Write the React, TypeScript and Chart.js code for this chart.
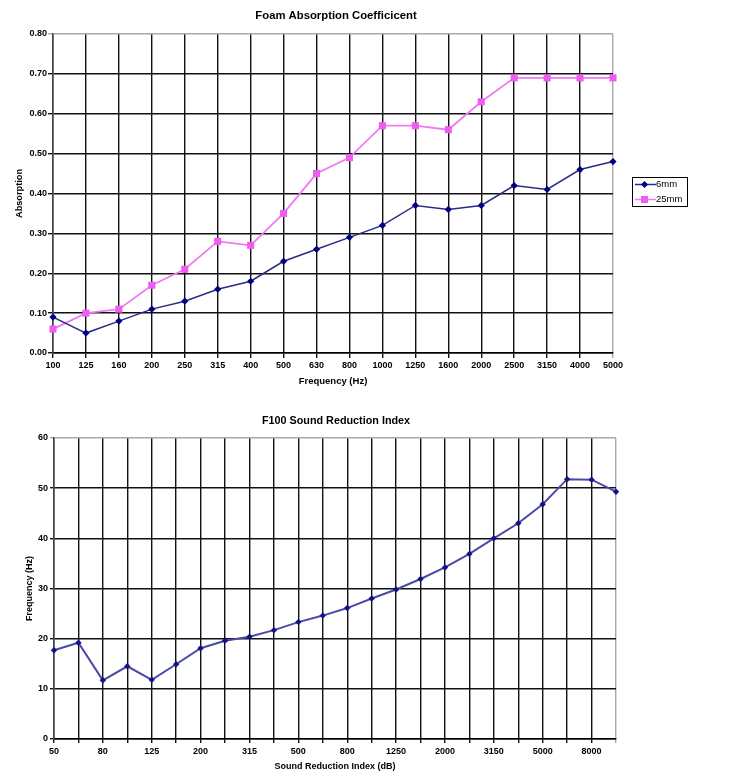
import { useEffect, useRef } from 'react';
import { Chart, registerables } from 'chart.js';

Chart.register(...registerables);

// ---------- data ----------
const absorptionTitle = 'Foam Absorption Coefficicent';
const absorptionFreqs = ['100', '125', '160', '200', '250', '315', '400', '500', '630', '800', '1000', '1250', '1600', '2000', '2500', '3150', '4000', '5000'];
const foam6mm = [0.09, 0.05, 0.08, 0.11, 0.13, 0.16, 0.18, 0.23, 0.26, 0.29, 0.32, 0.37, 0.36, 0.37, 0.42, 0.41, 0.46, 0.48];
const foam25mm = [0.06, 0.10, 0.11, 0.17, 0.21, 0.28, 0.27, 0.35, 0.45, 0.49, 0.57, 0.57, 0.56, 0.63, 0.69, 0.69, 0.69, 0.69];
const seriesNames = ['6mm', '25mm'];

const sriTitle = 'F100 Sound Reduction Index';
const sriFreqs = ['50', '63', '80', '100', '125', '160', '200', '250', '315', '400', '500', '630', '800', '1000', '1250', '1600', '2000', '2500', '3150', '4000', '5000', '6300', '8000', '10000'];
const sriValues = [17.7, 19.2, 11.7, 14.5, 11.8, 14.9, 18.1, 19.6, 20.4, 21.7, 23.3, 24.6, 26.1, 28.0, 29.8, 31.9, 34.2, 36.9, 40.0, 43.0, 46.8, 51.8, 51.7, 49.3];

const FONT = '"Liberation Sans", Arial, Helvetica, sans-serif';
const NAVY = '#000080';
const NAVY_LINE = '#2b2b85';
const MAGENTA_LINE = '#f07af2';
const MAGENTA_PT = '#ee5cf0';
const GRID = '#111111';
const EDGE = '#a8a8a8';

const titlePlugin = {
  id: 'sheetTitle',
  afterDraw(chart: any, _args: any, opts: any) {
    const ctx = chart.ctx;
    ctx.save();
    ctx.font = `bold ${opts.size}px ${FONT}`;
    ctx.fillStyle = '#000';
    ctx.textAlign = 'center';
    ctx.textBaseline = 'middle';
    ctx.fillText(opts.text, opts.x, opts.y);
    ctx.restore();
  },
};

const boxLegendPlugin = {
  id: 'boxLegend',
  afterDraw(chart: any, _args: any, opts: any) {
    if (!opts || !opts.show) return;
    const ctx = chart.ctx;
    ctx.save();
    ctx.strokeStyle = '#000';
    ctx.lineWidth = 1;
    ctx.strokeRect(632.5, 177.5, 55, 29);
    const rows = [184.5, 199.5];
    chart.data.datasets.forEach((ds: any, i: number) => {
      const y = rows[i];
      ctx.strokeStyle = ds.borderColor;
      ctx.lineWidth = 1.5;
      ctx.beginPath();
      ctx.moveTo(635, y);
      ctx.lineTo(656, y);
      ctx.stroke();
      ctx.fillStyle = ds.pointBackgroundColor;
      ctx.beginPath();
      if (ds.pointStyle === 'rect') {
        ctx.rect(644.5 - 3.5, y - 3.5, 7, 7);
      } else {
        ctx.moveTo(644.5, y - 3.5);
        ctx.lineTo(648, y);
        ctx.lineTo(644.5, y + 3.5);
        ctx.lineTo(641, y);
        ctx.closePath();
      }
      ctx.fill();
      ctx.fillStyle = '#000';
      ctx.font = `9.5px ${FONT}`;
      ctx.textAlign = 'left';
      ctx.textBaseline = 'middle';
      ctx.fillText(ds.label, 656, y);
    });
    ctx.restore();
  },
};

function AbsorptionChart() {
  const ref = useRef<HTMLCanvasElement>(null);
  useEffect(() => {
    if (!ref.current) return;
    const chart = new Chart(ref.current, {
      type: 'line',
      data: {
        labels: absorptionFreqs,
        datasets: [
          {
            label: seriesNames[0],
            data: foam6mm,
            borderColor: NAVY_LINE,
            borderWidth: 1.5,
            pointStyle: 'rectRot',
            pointRadius: 3.6,
            pointBackgroundColor: NAVY,
            pointBorderColor: NAVY,
            pointBorderWidth: 0,
            tension: 0,
          },
          {
            label: seriesNames[1],
            data: foam25mm,
            borderColor: MAGENTA_LINE,
            borderWidth: 1.8,
            pointStyle: 'rect',
            pointRadius: 5,
            pointBackgroundColor: MAGENTA_PT,
            pointBorderColor: MAGENTA_PT,
            pointBorderWidth: 0,
            tension: 0,
          },
        ],
      },
      options: {
        responsive: false,
        animation: false,
        layout: { padding: { left: 0, right: 120, top: 34, bottom: 0 } },
        plugins: {
          legend: { display: false },
          title: { display: false },
          tooltip: { enabled: false },
          sheetTitle: { text: absorptionTitle, x: 336, y: 16, size: 11.3 },
          boxLegend: { show: true },
        } as any,
        scales: {
          x: {
            type: 'category',
            offset: false,
            afterFit: (s: any) => { s.height = 42; },
            grid: {
              color: (c: any) => (c.index === absorptionFreqs.length - 1 ? EDGE : GRID),
              lineWidth: 1.4,
              tickLength: 5,
            },
            border: { color: '#000', width: 1.5 },
            ticks: {
              autoSkip: false,
              maxRotation: 0,
              padding: 2,
              color: '#000',
              font: { family: FONT, size: 9, weight: 'bold' },
            },
            title: {
              display: true,
              text: 'Frequency (Hz)',
              color: '#000',
              font: { family: FONT, size: 9.5, weight: 'bold' },
              padding: { top: 0, bottom: 8 },
            },
          },
          y: {
            min: 0,
            max: 0.8,
            afterFit: (s: any) => { s.width = 53; },
            grid: {
              color: (c: any) => (c.tick && Math.abs(c.tick.value - 0.8) < 1e-6 ? EDGE : GRID),
              lineWidth: 1.4,
              tickLength: 5,
            },
            border: { color: '#444', width: 1.5 },
            ticks: {
              stepSize: 0.1,
              padding: 1,
              color: '#000',
              font: { family: FONT, size: 9, weight: 'bold' },
              callback: (v: any) => Number(v).toFixed(2),
            },
            title: {
              display: true,
              text: 'Absorption',
              color: '#000',
              font: { family: FONT, size: 9.2, weight: 'bold' },
              padding: { top: 14, bottom: 0 },
            },
          },
        },
      },
      plugins: [titlePlugin, boxLegendPlugin],
    } as any);
    return () => chart.destroy();
  }, []);
  return <canvas ref={ref} width={733} height={395} style={{ display: 'block', width: 733, height: 395 }} />;
}

function SriChart() {
  const ref = useRef<HTMLCanvasElement>(null);
  useEffect(() => {
    if (!ref.current) return;
    const chart = new Chart(ref.current, {
      type: 'line',
      data: {
        labels: sriFreqs,
        datasets: [
          {
            label: sriTitle,
            data: sriValues,
            borderColor: '#4a4aa6',
            borderWidth: 2,
            pointStyle: 'rectRot',
            pointRadius: 3.2,
            pointBackgroundColor: '#12128a',
            pointBorderColor: '#12128a',
            pointBorderWidth: 0,
            tension: 0,
          },
        ],
      },
      options: {
        responsive: false,
        animation: false,
        layout: { padding: { left: 0, right: 117, top: 38, bottom: 0 } },
        plugins: {
          legend: { display: false },
          title: { display: false },
          tooltip: { enabled: false },
          sheetTitle: { text: sriTitle, x: 336, y: 21, size: 10.8 },
          boxLegend: { show: false },
        } as any,
        scales: {
          x: {
            type: 'category',
            offset: false,
            afterFit: (s: any) => { s.height = 38; },
            grid: {
              color: (c: any) => (c.index === sriFreqs.length - 1 ? EDGE : GRID),
              lineWidth: 1.4,
              tickLength: 4,
            },
            border: { color: '#000', width: 1.5 },
            ticks: {
              autoSkip: false,
              maxRotation: 0,
              padding: 3,
              color: '#000',
              font: { family: FONT, size: 9, weight: 'bold' },
              callback: (_v: any, i: number) => (i % 2 === 0 ? sriFreqs[i] : ''),
            },
            title: {
              display: true,
              text: 'Sound Reduction Index (dB)',
              color: '#000',
              font: { family: FONT, size: 9, weight: 'bold' },
              padding: { top: 0, bottom: 5 },
            },
          },
          y: {
            min: 0,
            max: 60,
            afterFit: (s: any) => { s.width = 54; },
            grid: {
              color: (c: any) => (c.tick && c.tick.value === 60 ? EDGE : GRID),
              lineWidth: 1.4,
              tickLength: 4,
            },
            border: { color: '#444', width: 1.5 },
            ticks: {
              stepSize: 10,
              padding: 2,
              color: '#000',
              font: { family: FONT, size: 9, weight: 'bold' },
            },
            title: {
              display: true,
              text: 'Frequency (Hz)',
              color: '#000',
              font: { family: FONT, size: 9, weight: 'bold' },
              padding: { top: 24, bottom: 0 },
            },
          },
        },
      },
      plugins: [titlePlugin],
    } as any);
    return () => chart.destroy();
  }, []);
  return <canvas ref={ref} width={733} height={377} style={{ display: 'block', width: 733, height: 377 }} />;
}

export default function App() {
  return (
    <div style={{ position: 'absolute', left: 0, top: 0, width: 733, height: 777, background: '#fff' }}>
      <div style={{ position: 'absolute', left: 0, top: 0 }}>
        <AbsorptionChart />
      </div>
      <div style={{ position: 'absolute', left: 0, top: 400 }}>
        <SriChart />
      </div>
    </div>
  );
}
